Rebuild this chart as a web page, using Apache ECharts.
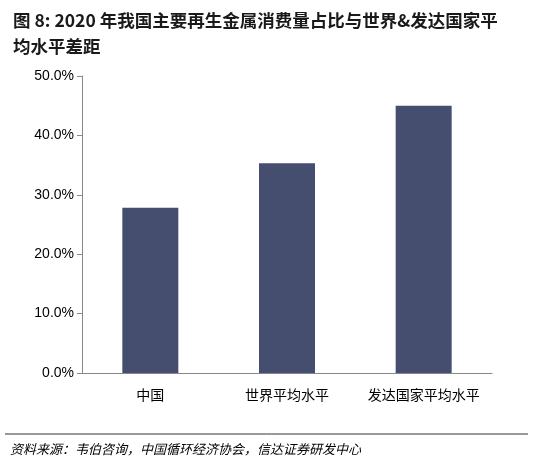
<!DOCTYPE html>
<html>
<head>
<meta charset="utf-8">
<script src="https://cdn.jsdelivr.net/npm/echarts@6/dist/echarts.min.js"></script>
<style>html,body{margin:0;padding:0;background:#fff}#panel{width:533px;height:467px}</style>
</head>
<body>
<div id="panel"></div>
<script>
var categories = ['中国', '世界平均水平', '发达国家平均水平'];
var shares = [27.8, 35.3, 45.0];
var yTicks = { min: 0, max: 50, interval: 10 };

var myChart = echarts.init(document.getElementById('panel'));
myChart.setOption({
    backgroundColor: '#fff',
    animation: false,
    title: {
        text: '图 8: 2020 年我国主要再生金属消费量占比与世界&发达国家平\n均水平差距',
        left: 8,
        top: 2,
        textStyle: {
            fontFamily: 'Noto Sans CJK SC',
            fontSize: 17.5,
            fontWeight: 'bold',
            color: '#1a1a1a',
            lineHeight: 26
        }
    },
    grid: { left: 82, right: 41, top: 76, bottom: 94, containLabel: false },
    xAxis: {
        type: 'category',
        data: categories,
        axisLine: { lineStyle: { color: '#888', width: 1 } },
        axisTick: { show: false },
        axisLabel: { color: '#000', fontSize: 14, margin: 15, interval: 0, fontFamily: 'Noto Sans CJK SC' }
    },
    yAxis: {
        type: 'value',
        min: yTicks.min,
        max: yTicks.max,
        interval: yTicks.interval,
        axisLine: { show: true, lineStyle: { color: '#888' } },
        axisTick: { show: true, length: 5, lineStyle: { color: '#888' } },
        splitLine: { show: false },
        axisLabel: {
            color: '#000', fontSize: 14, fontFamily: 'Liberation Sans',
            formatter: function (v) { return v.toFixed(1) + '%'; }
        }
    },
    series: [{
        type: 'bar',
        data: shares,
        barWidth: 56,
        itemStyle: { color: '#454e6e' }
    }],
    graphic: [
        { type: 'line', shape: { x1: 5, y1: 434, x2: 528, y2: 434 }, style: { stroke: '#333', lineWidth: 1 } },
        { type: 'text', left: 10, top: 443, style: {
            text: '资料来源：韦伯咨询，中国循环经济协会，信达证券研发中心',
            font: 'italic 13px "Noto Sans CJK SC"', fill: '#000' } }
    ]
});
</script>
</body>
</html>
